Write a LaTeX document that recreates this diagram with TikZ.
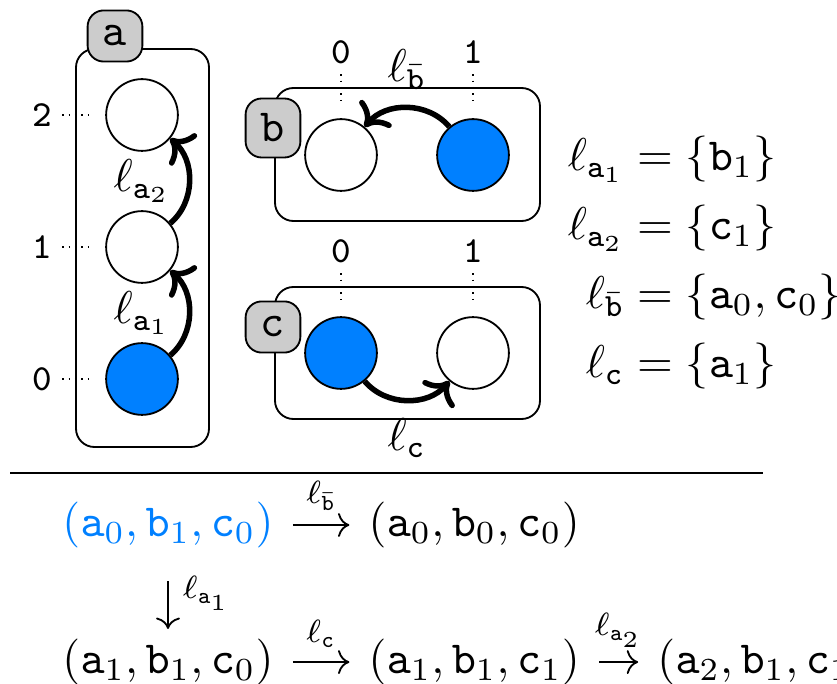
\documentclass[tikz,border=0pt]{standalone}
\usepackage{amsmath,amssymb}
\usepackage{tikz}
\usetikzlibrary{arrows.meta,positioning,fit,calc}
\definecolor{stateblue}{RGB}{0,128,255}

\begin{document}
\begin{tikzpicture}[
    x=0.2174pt, y=-0.2174pt,
    group/.style={draw, rounded corners, inner sep=0pt},
    tag/.style={draw, rounded corners=3.5pt, fill=gray!40, font=\ttfamily, inner sep=3.33pt},
    state/.style={circle, draw, minimum size=15.6pt, inner sep=0pt, fill=#1},
    state/.default=white,
    locmove/.style={->, very thick, bend right=50},
    tick/.style={densely dotted},
    digit/.style={font=\footnotesize\ttfamily, inner sep=2pt},
    tuple/.style={inner xsep=4pt, inner ysep=2pt},
    trans/.style={->},
    lab/.style={font=\scriptsize, inner sep=3pt}
]
\clip (0,0) rectangle (837,684);

\node[group, fit={(76,49) (209,447)}] (boxa) {};
\node[group, fit={(275,88) (540,221)}] (boxb) {};
\node[group, fit={(275,287) (540,419)}] (boxc) {};
\node[tag] (taga) at (115,36) {a};
\node[tag] (tagb) at (273,128) {b};
\node[tag] (tagc) at (273,327) {c};

\node[state] (a2) at (142,115) {};
\node[state] (a1) at (142,247) {};
\node[state=stateblue] (a0) at (142,379) {};
\node[state] (b0) at (341,155) {};
\node[state=stateblue] (b1) at (473,155) {};
\node[state=stateblue] (c0) at (341,353) {};
\node[state] (c1) at (473,353) {};

\foreach \i in {0,1,2}
    \draw[tick] ($(boxa.west |- a\i)+(-13,0)$) node[digit, left] {\i} -- ++(27,0);
\foreach \s in {b,c}
    \foreach \i in {0,1}
        \draw[tick] ($(box\s.north -| \s\i)+(0,-13)$) node[digit, above] {\i} -- ++(0,27);

\draw[locmove] (a0) to (a1);
\draw[locmove] (a1) to (a2);
\draw[locmove] (b1) to node[above] {$\ell_{\bar{\mathtt{b}}}$} (b0);
\draw[locmove] (c0) to node[below] {$\ell_{\mathtt{c}}$} (c1);
\node (la1) at ($(a0)!0.5!(a1)$) {$\ell_{\mathtt{a}_1}$};
\node (la2) at ($(a1)!0.5!(a2)$) {$\ell_{\mathtt{a}_2}$};

\node[anchor=west, inner sep=0pt] (laws) at (567,263) {$\begin{aligned}
    \ell_{\mathtt{a}_1} &= \{\mathtt{b}_1\}\\
    \ell_{\mathtt{a}_2} &= \{\mathtt{c}_1\}\\
    \ell_{\bar{\mathtt{b}}} &= \{\mathtt{a}_0, \mathtt{c}_0\}\\
    \ell_{\mathtt{c}} &= \{\mathtt{a}_1\}
\end{aligned}$};

\draw[semithick] (10,473) -- (763,473);

\node[tuple, text=stateblue] (s0) at (168,525) {$(\mathtt{a}_0, \mathtt{b}_1, \mathtt{c}_0)$};
\node[tuple, right=12.3pt of s0] (s1) {$(\mathtt{a}_0, \mathtt{b}_0, \mathtt{c}_0)$};
\node[tuple, below=15.4pt of s0] (s2) {$(\mathtt{a}_1, \mathtt{b}_1, \mathtt{c}_0)$};
\node[tuple, right=12.3pt of s2] (s3) {$(\mathtt{a}_1, \mathtt{b}_1, \mathtt{c}_1)$};
\node[tuple, right=8.5pt of s3] (s4) {$(\mathtt{a}_2, \mathtt{b}_1, \mathtt{c}_1)$};

\draw[trans] (s0) -- node[lab, above] {$\ell_{\bar{\mathtt{b}}}$} (s1);
\draw[trans, shorten <=5pt] (s0) -- node[lab, right] {$\ell_{\mathtt{a}_1}$} (s2);
\draw[trans] (s2) -- node[lab, above] {$\ell_{\mathtt{c}}$} (s3);
\draw[trans] (s3) -- node[lab, above] {$\ell_{\mathtt{a}_2}$} (s4);
\end{tikzpicture}
\end{document}
